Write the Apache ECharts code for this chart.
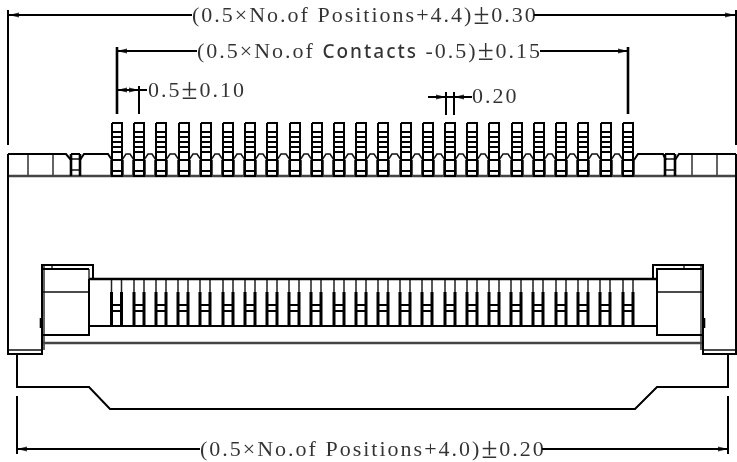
<!DOCTYPE html>
<html><head><meta charset="utf-8">
<style>html,body{margin:0;padding:0;background:#fff}#c{width:737px;height:462px}</style>
<script src="https://cdn.jsdelivr.net/npm/echarts@6/dist/echarts.min.js"></script></head>
<body><div id="c"></div>
<script>
const contactCentres=[117,139,161,184,206,228,250,272,295,317,339,361,383,406,428,450,472,494,517,539,561,583,606,628];
const toothCentres=[116.5,139,161,183,205,228,250,272,294,316,339,361,383,405,427,450,472,494,516,538,561,583,605,628];
const contactRungs=[132,137,142,147,152,160,171];
const labelTexts=[
 {x:192,y:16.5,t:'(0.5×No.of Positions+4.4){g|±}0.30'},
 {x:197,y:52.5,t:'(0.5×No.of {s|Contacts} -0.5){g|±}0.15'},
 {x:148,y:91.5,t:'0.5{g|±}0.10'},
 {x:472,y:97.5,t:'0.20'},
 {x:200,y:450.5,t:'(0.5×No.of Positions+4.0){g|±}0.20'}
];
const thinLines=[
 [[28,154],[28,176]],[[53,154],[53,176]],[[692,154],[692,176]],[[717,154],[717,176]],
 [[89,292],[89,269]],[[42,292],[89,292]],[[656,292],[703,292]],[[52,265],[52,269]],[[684,265],[684,269]],
 [[44,265],[44,350]],[[701,265],[701,350]],
 [[8,350],[42,350]],[[703,350],[736,350]],[[71,159],[80,159]],[[71,170],[80,170]],[[665,159],[675,159]],[[665,170],[675,170]]
];
const mediumLines=[
 [[8,154],[66,154],[71,160]],
 [[80,160],[84,154],[108,154],[112,160]],
 [[634,160],[638,154],[663,154],[666,160]],
 [[675,160],[679,154],[736,154]],
 [[71,154],[80,154]],[[665,154],[675,154]],
 [[8,154],[8,176]],[[736,154],[736,176]],
 [[8,10],[8,145]],[[736,10],[736,145]],
 [[8,15],[192,15]],[[534,15],[736,15]],
 [[117,51],[197,51]],[[540,51],[628,51]],
 [[117,90],[147,90]],[[428,97],[472,97]],
 [[17,396],[17,454]],[[728,396],[728,454]],
 [[17,449],[200,449]],[[542,449],[728,449]],
 [[446,92],[446,115]],[[454,92],[454,115]],[[139,86],[139,114]],
 [[8,176],[8,354],[42,354],[42,265],[93,265],[93,279]],
 [[736,176],[736,354],[703,354],[703,265],[653,265],[653,279]],
 [[42,269],[89,269]],[[656,269],[703,269]],
 [[42,335],[89,335],[89,326]],[[703,335],[657,335],[657,269]],[[89,279],[89,326]],
 [[89,326],[657,326]],
 [[17,354],[17,387],[89,387],[110,409],[635,409],[657,387],[728,387],[728,354]]
];
const greyLines=[[[8,176],[736,176]],[[42,343],[703,343]]];
const heavyLines=[[[117,47],[117,114]],[[628,47],[628,114]],[[41,318],[41,328]],[[704,318],[704,328]],
 [[71,154],[71,176]],[[80,154],[80,176]],[[665,154],[665,176]],[[675,154],[675,176]],[[89,279],[657,279]]];
const arrows=[
 {x:14,y:15,r:90},{x:730,y:15,r:-90},{x:122,y:51,r:90},{x:623,y:51,r:-90},
 {x:122,y:90,r:90},{x:134,y:90,r:-90},{x:441,y:97,r:-90},{x:459,y:97,r:90},
 {x:22,y:449,r:90},{x:723,y:449,r:-90}
];
const NONE=[null,null];
function flat(list){const o=[];list.forEach(l=>{l.forEach(p=>o.push(p));o.push(NONE)});return o;}
const toothThin=[],toothThick=[],toothBars=[],contactLines=[],valleyLines=[];
contactCentres.forEach(c=>{
 contactLines.push([[c-5,123],[c+5,123],[c+5,176],[c-5,176],[c-5,123]]);
 contactRungs.forEach(y=>contactLines.push([[c-5,y],[c+5,y]]));
 valleyLines.push([[c-6,160],[c-6,176]],[[c+6,160],[c+6,176]]);
});
for(let i=0;i<contactCentres.length-1;i++){
 const a=contactCentres[i],b=contactCentres[i+1];
 valleyLines.push([[a+5,160],[a+9,154],[b-9,154],[b-5,160]]);
}
toothCentres.forEach(c=>{
 toothThin.push([[c-5,279],[c-5,292]],[[c+5,279],[c+5,292]]);
 toothThick.push([[c-5,292],[c-5,326]],[[c+5,292],[c+5,326]]);
 toothBars.push([[c-5,305],[c+5,305]],[[c-5,311],[c+5,311]]);
});
// the drawing's lettering is evenly spaced, so every canvas text gets a small letter spacing
const LETTER_SPACING='2px';
const origGetContext=HTMLCanvasElement.prototype.getContext;
HTMLCanvasElement.prototype.getContext=function(){
 const ctx=origGetContext.apply(this,arguments);
 if(ctx&&'letterSpacing' in ctx)ctx.letterSpacing=LETTER_SPACING;
 return ctx;
};
const lineS=(data,w,col)=>({type:'line',data,showSymbol:false,symbol:'none',connectNulls:false,silent:true,
 animation:false,lineStyle:{width:w,color:col||'#000',cap:'butt',join:'miter'},emphasis:{disabled:true}});
const chart=echarts.init(document.getElementById('c'),null,{renderer:'canvas'});
chart.setOption({
 animation:false,backgroundColor:'#fff',
 grid:{left:0,right:0,top:0,bottom:0},
 xAxis:{type:'value',min:0,max:737,show:false},
 yAxis:{type:'value',min:0,max:462,inverse:true,show:false},
 series:[
  lineS(flat(thinLines),1.3,'#111'),
  lineS(flat(valleyLines),1.5,'#111'),
  lineS(flat(toothThin),1.5,'#222'),
  lineS(flat(greyLines),2.4,'#444'),
  lineS(flat(mediumLines),2),
  lineS(flat(contactLines),2),
  lineS(flat(toothBars),2),
  lineS(flat(toothThick),3),
  lineS(flat(heavyLines),2.6),
  {type:'scatter',silent:true,symbol:'triangle',symbolSize:[5,10],
   data:arrows.map(a=>({value:[a.x,a.y],symbolRotate:a.r})),itemStyle:{color:'#000'}},
  {type:'scatter',silent:true,symbolSize:0,
   data:labelTexts.map(l=>({value:[l.x,l.y],label:{show:true,position:'right',distance:0,formatter:l.t,
    fontFamily:'Liberation Serif',fontSize:22,color:'#000',
    rich:{s:{fontFamily:'Noto Sans',fontWeight:500,fontSize:19,color:'#000'},g:{fontFamily:'Liberation Serif',fontSize:29,color:'#000'}}}}))}
 ]
});
</script></body></html>
